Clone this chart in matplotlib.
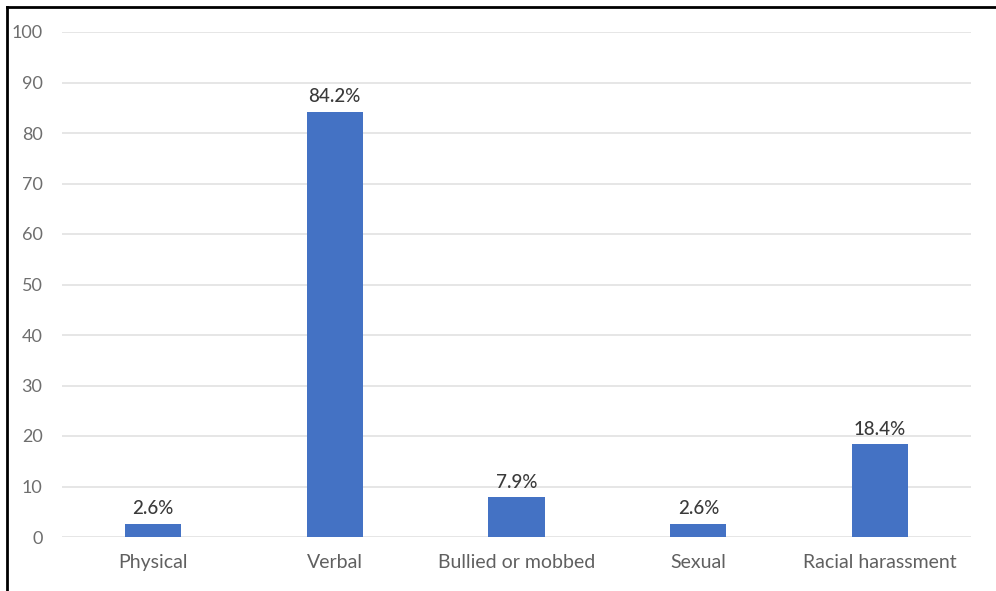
import matplotlib.pyplot as plt
from matplotlib.lines import Line2D

categories = ["Physical", "Verbal", "Bullied or mobbed", "Sexual", "Racial harassment"]
values = [2.6, 84.2, 7.9, 2.6, 18.4]
yticks = [0, 10, 20, 30, 40, 50, 60, 70, 80, 90, 100]

plt.rcParams['font.family'] = ['Lato', 'DejaVu Sans']

W, H = 996, 591
fig = plt.figure(figsize=(W / 100, H / 100), dpi=100)
ax = fig.add_axes([62 / W, 1 - 537 / H, (971 - 62) / W, (537 - 32) / H])

x = range(len(categories))
ax.bar(x, values, width=0.31, color="#4472C4", zorder=3)
for xi, v in zip(x, values):
    ax.text(xi, v + 1.3, f"{v}%", ha="center", va="bottom",
            fontsize=13.5, color="#3a3a3a", fontweight="medium")

ax.set_xlim(-0.5, len(categories) - 0.5)
ax.set_ylim(0, 100)
ax.set_yticks(yticks)
ax.set_xticks(list(x))
ax.set_xticklabels(categories)
ax.tick_params(axis="x", length=0, labelsize=14, colors="#606060", pad=12)
ax.tick_params(axis="y", length=0, labelsize=13, colors="#6e6e6e", pad=14)
for lbl in ax.get_yticklabels():
    lbl.set_horizontalalignment("right")
ax.yaxis.grid(True, color="#e6e6e6", linewidth=1.4, zorder=0)
for s in ax.spines.values():
    s.set_visible(False)

# frame lines along the top and left edges
fig.add_artist(Line2D([7 / W, 7 / W], [0, 1 - 7 / H], color="black", lw=2, transform=fig.transFigure))
fig.add_artist(Line2D([7 / W, 1], [1 - 7 / H, 1 - 7 / H], color="black", lw=2, transform=fig.transFigure))

fig.savefig("out.png", dpi=100)
